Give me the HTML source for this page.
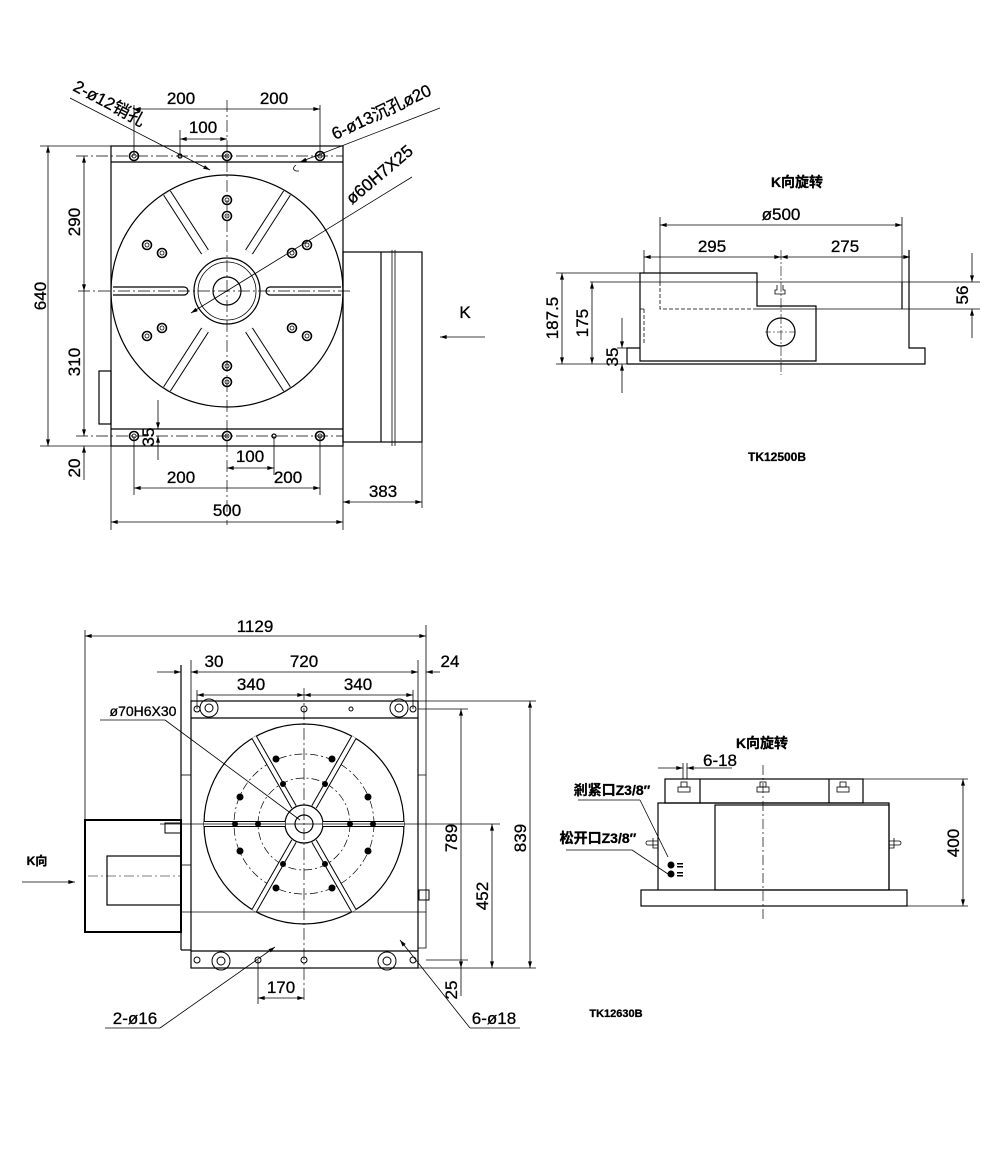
<!DOCTYPE html>
<html><head><meta charset="utf-8"><style>
html,body{margin:0;padding:0;background:#fff;}
svg{display:block;}
text{font-family:"Liberation Sans Narrow","Liberation Sans","Noto Sans CJK SC",sans-serif;font-size:17px;fill:#000;stroke:#000;stroke-width:0.3;}
.b{font-weight:bold;}
</style></head><body>
<svg width="1000" height="1161" viewBox="0 0 1000 1161" xmlns="http://www.w3.org/2000/svg">
<defs>
<marker id="a" viewBox="0 0 10 6" refX="10" refY="3" markerWidth="10" markerHeight="4" orient="auto-start-reverse" markerUnits="userSpaceOnUse"><path d="M0,0 L10,3 L0,6z" fill="#000"/></marker>
</defs>
<g fill="none" stroke="#000" stroke-width="1.2">
<!-- ===== TOP LEFT ===== -->
<rect x="111" y="146" width="232" height="300"/>
<line x1="111" y1="162" x2="343" y2="162"/>
<line x1="111" y1="429" x2="343" y2="429"/>
<circle cx="227" cy="291" r="116"/>
<circle cx="227" cy="291" r="33"/>
<circle cx="227" cy="291" r="29" stroke-width="0.8"/>
<circle cx="227" cy="291" r="14"/>
<rect x="343" y="252" width="79" height="190"/>
<line x1="381" y1="252" x2="381" y2="442"/>
<line x1="392" y1="250" x2="392" y2="446" stroke-width="0.8"/>
<line x1="395" y1="250" x2="395" y2="446" stroke-width="0.8"/>
<rect x="99" y="371" width="12" height="53"/>
<path d="M113,287 H184 A4,4 0 0 1 184,295 H113"/>
<path d="M341,287 H270 A4,4 0 0 0 270,295 H341"/>
<g>
<line x1="167" y1="193" x2="205" y2="252" stroke-width="9" stroke="#000"/>
<line x1="167" y1="193" x2="205" y2="252" stroke-width="7" stroke="#fff"/>
<line x1="287" y1="193" x2="249" y2="252" stroke-width="9" stroke="#000"/>
<line x1="287" y1="193" x2="249" y2="252" stroke-width="7" stroke="#fff"/>
<line x1="167" y1="389" x2="205" y2="330" stroke-width="9" stroke="#000"/>
<line x1="167" y1="389" x2="205" y2="330" stroke-width="7" stroke="#fff"/>
<line x1="287" y1="389" x2="249" y2="330" stroke-width="9" stroke="#000"/>
<line x1="287" y1="389" x2="249" y2="330" stroke-width="7" stroke="#fff"/>
</g>
<line x1="227" y1="100" x2="227" y2="525" stroke-width="0.7" stroke-dasharray="12,3,2,3"/>
<line x1="78" y1="291" x2="350" y2="291" stroke-width="0.7" stroke-dasharray="12,3,2,3"/>
<line x1="76" y1="156" x2="343" y2="156" stroke-width="0.7" stroke-dasharray="12,3,2,3"/>
<line x1="76" y1="436" x2="343" y2="436" stroke-width="0.7" stroke-dasharray="12,3,2,3"/>
<g stroke-width="1.6">
<circle cx="134" cy="156" r="4.5"/><circle cx="227" cy="156" r="4.5"/><circle cx="320" cy="156" r="4.5"/>
<circle cx="134" cy="436" r="4.5"/><circle cx="227" cy="436" r="4.5"/><circle cx="320" cy="436" r="4.5"/>
<circle cx="227" cy="200" r="4.5"/><circle cx="227" cy="216" r="4.5"/>
<circle cx="147" cy="245" r="4.5"/><circle cx="162" cy="253" r="4.5"/>
<circle cx="307" cy="245" r="4.5"/><circle cx="292" cy="253" r="4.5"/>
<circle cx="147" cy="336" r="4.5"/><circle cx="162" cy="328" r="4.5"/>
<circle cx="307" cy="336" r="4.5"/><circle cx="292" cy="328" r="4.5"/>
<circle cx="227" cy="366" r="4.5"/><circle cx="227" cy="382" r="4.5"/>
</g>
<g stroke-width="0.8">
<circle cx="134" cy="156" r="2"/><circle cx="227" cy="156" r="2"/><circle cx="320" cy="156" r="2"/>
<circle cx="134" cy="436" r="2"/><circle cx="227" cy="436" r="2"/><circle cx="320" cy="436" r="2"/>
<circle cx="227" cy="200" r="2"/><circle cx="227" cy="216" r="2"/>
<circle cx="147" cy="245" r="2"/><circle cx="162" cy="253" r="2"/>
<circle cx="307" cy="245" r="2"/><circle cx="292" cy="253" r="2"/>
<circle cx="147" cy="336" r="2"/><circle cx="162" cy="328" r="2"/>
<circle cx="307" cy="336" r="2"/><circle cx="292" cy="328" r="2"/>
<circle cx="227" cy="366" r="2"/><circle cx="227" cy="382" r="2"/>
</g>
<circle cx="180" cy="156" r="2"/><circle cx="274" cy="436" r="2"/>
<path d="M296,165 q-5,4 0,6 h3" stroke-width="0.8"/>
<g stroke-width="0.8">
<line x1="40" y1="146" x2="111" y2="146"/><line x1="40" y1="446" x2="111" y2="446"/>
<line x1="48" y1="146" x2="48" y2="446" marker-start="url(#a)" marker-end="url(#a)"/>
<line x1="84" y1="156" x2="84" y2="291" marker-start="url(#a)" marker-end="url(#a)"/>
<line x1="84" y1="291" x2="84" y2="436" marker-end="url(#a)"/>
<line x1="84" y1="446" x2="84" y2="480" marker-start="url(#a)"/>
<line x1="158" y1="400" x2="158" y2="429" marker-end="url(#a)"/>
<line x1="158" y1="436" x2="158" y2="460" marker-start="url(#a)"/>
<line x1="134" y1="109" x2="320" y2="109" marker-start="url(#a)" marker-end="url(#a)"/>
<line x1="134" y1="105" x2="134" y2="156"/><line x1="320" y1="105" x2="320" y2="156"/>
<line x1="180" y1="130" x2="180" y2="156"/>
<line x1="180" y1="139" x2="227" y2="139" marker-start="url(#a)" marker-end="url(#a)"/>
<line x1="134" y1="436" x2="134" y2="495"/><line x1="320" y1="436" x2="320" y2="495"/>
<line x1="274" y1="436" x2="274" y2="475"/>
<line x1="227" y1="468" x2="274" y2="468" marker-start="url(#a)" marker-end="url(#a)"/>
<line x1="134" y1="488" x2="320" y2="488" marker-start="url(#a)" marker-end="url(#a)"/>
<line x1="111" y1="446" x2="111" y2="530"/><line x1="343" y1="446" x2="343" y2="530"/>
<line x1="422" y1="442" x2="422" y2="508"/>
<line x1="111" y1="522" x2="343" y2="522" marker-start="url(#a)" marker-end="url(#a)"/>
<line x1="343" y1="502" x2="422" y2="502" marker-start="url(#a)" marker-end="url(#a)"/>
<line x1="485" y1="337" x2="440" y2="337" marker-end="url(#a)"/>
<line x1="70" y1="98" x2="210" y2="170" marker-end="url(#a)"/>
<line x1="440" y1="108" x2="300" y2="162" marker-end="url(#a)"/>
<line x1="191" y1="313" x2="412" y2="177" marker-start="url(#a)"/>
</g>
<!-- ===== TOP RIGHT ===== -->
<path d="M640,273 H757 V306 H816 V361 H640 Z"/>
<path d="M627,364 H925 V348 H909 V250"/>
<path d="M627,364 V348 H640"/>
<line x1="590" y1="282" x2="980" y2="282" stroke-width="0.8"/>
<line x1="757" y1="309" x2="980" y2="309" stroke-width="0.8"/>
<line x1="902" y1="282" x2="902" y2="309"/>
<path d="M660,282 V309 H757 M644,309 H640" stroke-dasharray="4,2" stroke-width="0.8"/>
<line x1="644" y1="309" x2="644" y2="345" stroke-dasharray="4,2" stroke-width="0.8"/>
<circle cx="781" cy="332" r="14"/>
<line x1="765" y1="332" x2="797" y2="332" stroke-width="0.6" stroke-dasharray="6,2,2,2"/>
<line x1="781" y1="250" x2="781" y2="375" stroke-width="0.6" stroke-dasharray="10,2,2,2"/>
<path d="M777,285 v5 h-2 v4 h10 v-4 h-2 v-5" stroke-width="0.8"/>
<g stroke-width="0.8">
<line x1="660" y1="217" x2="660" y2="282"/><line x1="902" y1="217" x2="902" y2="282"/>
<line x1="660" y1="225" x2="902" y2="225" marker-start="url(#a)" marker-end="url(#a)"/>
<line x1="644" y1="250" x2="644" y2="273"/>
<line x1="644" y1="257" x2="781" y2="257" marker-start="url(#a)" marker-end="url(#a)"/>
<line x1="781" y1="257" x2="910" y2="257" marker-start="url(#a)" marker-end="url(#a)"/>
<line x1="556" y1="273" x2="640" y2="273"/><line x1="556" y1="364" x2="627" y2="364"/>
<line x1="562" y1="273" x2="562" y2="364" marker-start="url(#a)" marker-end="url(#a)"/>
<line x1="592" y1="282" x2="592" y2="364" marker-start="url(#a)" marker-end="url(#a)"/>
<line x1="622" y1="318" x2="622" y2="348" marker-end="url(#a)"/>
<line x1="622" y1="364" x2="622" y2="393" marker-start="url(#a)"/>
<line x1="617" y1="348" x2="627" y2="348"/>
<line x1="972" y1="253" x2="972" y2="282" marker-end="url(#a)"/>
<line x1="972" y1="309" x2="972" y2="338" marker-start="url(#a)"/>
</g>
<!-- ===== BOTTOM LEFT ===== -->
<rect x="191" y="701" width="227" height="267"/>
<line x1="191" y1="718" x2="418" y2="718"/>
<line x1="191" y1="951" x2="418" y2="951"/>
<line x1="181" y1="665" x2="181" y2="950"/>
<line x1="181" y1="950" x2="191" y2="950"/>
<line x1="426" y1="625" x2="426" y2="775" stroke-width="0.8"/>
<path d="M418,775 H426 V948 H418" stroke-width="0.8"/>
<rect x="181" y="775" width="10" height="90" stroke-width="0.8"/>
<rect x="85" y="820" width="96" height="112" stroke-width="2"/>
<rect x="107" y="856" width="74" height="49"/>
<circle cx="304" cy="824" r="100"/>
<circle cx="304" cy="824" r="70" stroke-width="0.7" stroke-dasharray="8,3,2,3"/>
<circle cx="304" cy="824" r="46" stroke-width="0.7" stroke-dasharray="8,3,2,3"/>
<circle cx="304" cy="824" r="19"/>
<circle cx="304" cy="824" r="9"/>
<g>
<line x1="204" y1="824" x2="285" y2="824" stroke-width="6"/>
<line x1="204" y1="824" x2="285" y2="824" stroke-width="4" stroke="#fff"/>
<line x1="323" y1="824" x2="404" y2="824" stroke-width="6"/>
<line x1="323" y1="824" x2="404" y2="824" stroke-width="4" stroke="#fff"/>
<line x1="254" y1="737" x2="294" y2="807" stroke-width="6"/>
<line x1="254" y1="737" x2="294" y2="807" stroke-width="4" stroke="#fff"/>
<line x1="354" y1="737" x2="314" y2="807" stroke-width="6"/>
<line x1="354" y1="737" x2="314" y2="807" stroke-width="4" stroke="#fff"/>
<line x1="254" y1="911" x2="294" y2="841" stroke-width="6"/>
<line x1="254" y1="911" x2="294" y2="841" stroke-width="4" stroke="#fff"/>
<line x1="354" y1="911" x2="314" y2="841" stroke-width="6"/>
<line x1="354" y1="911" x2="314" y2="841" stroke-width="4" stroke="#fff"/>
</g>
<line x1="304" y1="688" x2="304" y2="1000" stroke-width="0.7" stroke-dasharray="12,3,2,3"/>
<line x1="160" y1="824" x2="500" y2="824" stroke-width="0.7"/>
<line x1="88" y1="876" x2="181" y2="876" stroke-width="0.6" stroke-dasharray="10,3,2,3"/>
<line x1="180" y1="912" x2="426" y2="912" stroke-width="0.7"/>
<g fill="#000" stroke="none">
<circle cx="276" cy="759" r="3.5"/><circle cx="332" cy="759" r="3.5"/>
<circle cx="283" cy="784" r="3"/><circle cx="325" cy="784" r="3"/>
<circle cx="240" cy="797" r="3.5"/><circle cx="368" cy="797" r="3.5"/>
<circle cx="235" cy="824" r="3"/><circle cx="258" cy="824" r="3"/><circle cx="350" cy="824" r="3"/><circle cx="373" cy="824" r="3"/>
<circle cx="240" cy="851" r="3.5"/><circle cx="368" cy="851" r="3.5"/>
<circle cx="283" cy="864" r="3"/><circle cx="325" cy="864" r="3"/>
<circle cx="276" cy="888" r="3.5"/><circle cx="332" cy="888" r="3.5"/>
</g>
<g stroke-width="1">
<circle cx="209" cy="708" r="9"/><circle cx="209" cy="708" r="4"/>
<circle cx="399" cy="708" r="9"/><circle cx="399" cy="708" r="4"/>
<circle cx="221" cy="961" r="9"/><circle cx="221" cy="961" r="4"/>
<circle cx="387" cy="961" r="9"/><circle cx="387" cy="961" r="4"/>
<circle cx="197" cy="709" r="3"/><circle cx="413" cy="709" r="3"/><circle cx="304" cy="709" r="3"/><circle cx="351" cy="709" r="2"/>
<circle cx="197" cy="960" r="3"/><circle cx="413" cy="960" r="3"/><circle cx="304" cy="960" r="3"/><circle cx="258" cy="960" r="3"/>
</g>
<rect x="165" y="823" width="16" height="10" stroke-width="1"/>
<rect x="419" y="890" width="10" height="10" stroke-width="1"/>
<g stroke-width="0.8">
<line x1="85" y1="630" x2="85" y2="820"/>
<line x1="85" y1="636" x2="426" y2="636" marker-start="url(#a)" marker-end="url(#a)"/>
<line x1="157" y1="672" x2="181" y2="672" marker-end="url(#a)"/>
<line x1="191" y1="672" x2="418" y2="672" marker-start="url(#a)" marker-end="url(#a)"/>
<line x1="191" y1="660" x2="191" y2="701"/><line x1="418" y1="660" x2="418" y2="701"/>
<line x1="440" y1="672" x2="426" y2="672" marker-end="url(#a)"/>
<line x1="197" y1="690" x2="197" y2="709"/><line x1="413" y1="690" x2="413" y2="709"/>
<line x1="197" y1="695" x2="304" y2="695" marker-start="url(#a)" marker-end="url(#a)"/>
<line x1="304" y1="695" x2="413" y2="695" marker-start="url(#a)" marker-end="url(#a)"/>
<line x1="418" y1="701" x2="536" y2="701"/><line x1="418" y1="709" x2="468" y2="709"/>
<line x1="418" y1="968" x2="536" y2="968"/>
<line x1="426" y1="960" x2="468" y2="960"/>
<line x1="461" y1="709" x2="461" y2="968" marker-start="url(#a)" marker-end="url(#a)"/>
<line x1="461" y1="968" x2="461" y2="996"/>
<line x1="530" y1="701" x2="530" y2="968" marker-start="url(#a)" marker-end="url(#a)"/>
<line x1="492" y1="824" x2="492" y2="968" marker-start="url(#a)" marker-end="url(#a)"/>
<line x1="258" y1="960" x2="258" y2="1004"/>
<line x1="258" y1="998" x2="304" y2="998" marker-start="url(#a)" marker-end="url(#a)"/>
<line x1="100" y1="720" x2="165" y2="720"/>
<line x1="165" y1="720" x2="300" y2="820"/>
<line x1="105" y1="1028" x2="160" y2="1028"/>
<line x1="160" y1="1028" x2="275" y2="947" marker-end="url(#a)"/>
<line x1="470" y1="1028" x2="520" y2="1028"/>
<line x1="470" y1="1028" x2="400" y2="940" marker-end="url(#a)"/>
<line x1="22" y1="882" x2="75" y2="882" marker-end="url(#a)"/>
</g>
<!-- ===== BOTTOM RIGHT ===== -->
<rect x="665" y="779" width="198" height="24"/>
<line x1="700" y1="779" x2="700" y2="803"/><line x1="829" y1="779" x2="829" y2="803"/>
<path d="M658,890 V803 H889 V890"/>
<rect x="715" y="805" width="174" height="85"/>
<rect x="641" y="890" width="266" height="16"/>
<line x1="763" y1="765" x2="763" y2="920" stroke-width="0.7" stroke-dasharray="10,3,2,3"/>
<g stroke-width="0.8">
<rect x="681" y="782" width="6" height="5"/><rect x="678" y="787" width="12" height="5"/>
<rect x="760" y="782" width="6" height="5"/><rect x="757" y="787" width="12" height="5"/>
<rect x="840" y="782" width="6" height="5"/><rect x="837" y="787" width="12" height="5"/>
<path d="M658,841 h-10 a2,2 0 0 0 0,4 h10 M653,838 v10 h5"/>
<path d="M889,841 h10 a2,2 0 0 1 0,4 h-10 M894,838 v10 h-5"/>
<line x1="863" y1="779" x2="968" y2="779"/><line x1="907" y1="906" x2="968" y2="906"/>
<line x1="963" y1="779" x2="963" y2="906" marker-start="url(#a)" marker-end="url(#a)"/>
<line x1="683" y1="763" x2="683" y2="779"/><line x1="687" y1="763" x2="687" y2="779"/>
<line x1="658" y1="768" x2="683" y2="768" marker-end="url(#a)"/>
<line x1="732" y1="768" x2="687" y2="768" marker-end="url(#a)"/>
<line x1="578" y1="800" x2="640" y2="800"/><line x1="640" y1="800" x2="668" y2="857"/>
<line x1="566" y1="850" x2="632" y2="850"/><line x1="632" y1="850" x2="668" y2="874"/>
</g>
<g fill="#000" stroke="none">
<circle cx="671" cy="865" r="3.5"/><circle cx="671" cy="874" r="3.5"/>
<rect x="677" y="863" width="6" height="1.5"/><rect x="677" y="866" width="6" height="1.5"/>
<rect x="677" y="872" width="6" height="1.5"/><rect x="677" y="875" width="6" height="1.5"/>
</g>
</g>
<!-- ===== TEXT ===== -->
<g>
<text x="72" y="90" transform="rotate(28 72 90)">2-ø12销孔</text>
<text x="181" y="104" text-anchor="middle">200</text>
<text x="274" y="104" text-anchor="middle">200</text>
<text x="203" y="133" text-anchor="middle">100</text>
<text x="335" y="140" transform="rotate(-25 335 140)">6-ø13沉孔ø20</text>
<text x="352" y="205" transform="rotate(-40 352 205)">ø60H7X25</text>
<text x="46" y="296" transform="rotate(-90 46 296)" text-anchor="middle">640</text>
<text x="80" y="222" transform="rotate(-90 80 222)" text-anchor="middle">290</text>
<text x="80" y="362" transform="rotate(-90 80 362)" text-anchor="middle">310</text>
<text x="80" y="468" transform="rotate(-90 80 468)" text-anchor="middle">20</text>
<text x="154" y="437" transform="rotate(-90 154 437)" text-anchor="middle">35</text>
<text x="250" y="462" text-anchor="middle">100</text>
<text x="181" y="483" text-anchor="middle">200</text>
<text x="288" y="483" text-anchor="middle">200</text>
<text x="383" y="497" text-anchor="middle">383</text>
<text x="227" y="516" text-anchor="middle">500</text>
<text x="465" y="318" text-anchor="middle">K</text>
<text x="797" y="187" text-anchor="middle" class="b" style="font-size:14px">K向旋转</text>
<text x="781" y="220" text-anchor="middle">ø500</text>
<text x="712" y="252" text-anchor="middle">295</text>
<text x="845" y="252" text-anchor="middle">275</text>
<text x="558" y="318" transform="rotate(-90 558 318)" text-anchor="middle">187.5</text>
<text x="588" y="323" transform="rotate(-90 588 323)" text-anchor="middle">175</text>
<text x="618" y="357" transform="rotate(-90 618 357)" text-anchor="middle">35</text>
<text x="968" y="295" transform="rotate(-90 968 295)" text-anchor="middle">56</text>
<text x="777" y="461" text-anchor="middle" class="b" style="font-size:12px">TK12500B</text>
<text x="255" y="632" text-anchor="middle">1129</text>
<text x="214" y="667" text-anchor="middle">30</text>
<text x="304" y="667" text-anchor="middle">720</text>
<text x="450" y="667" text-anchor="middle">24</text>
<text x="251" y="690" text-anchor="middle">340</text>
<text x="358" y="690" text-anchor="middle">340</text>
<text x="143" y="716" text-anchor="middle" style="font-size:14px">ø70H6X30</text>
<text x="37" y="865" text-anchor="middle" class="b" style="font-size:12px">K向</text>
<text x="457" y="838" transform="rotate(-90 457 838)" text-anchor="middle">789</text>
<text x="526" y="838" transform="rotate(-90 526 838)" text-anchor="middle">839</text>
<text x="488" y="896" transform="rotate(-90 488 896)" text-anchor="middle">452</text>
<text x="457" y="990" transform="rotate(-90 457 990)" text-anchor="middle">25</text>
<text x="281" y="993" text-anchor="middle">170</text>
<text x="135" y="1024" text-anchor="middle">2-ø16</text>
<text x="494" y="1024" text-anchor="middle">6-ø18</text>
<text x="959" y="843" transform="rotate(-90 959 843)" text-anchor="middle">400</text>
<text x="762" y="748" text-anchor="middle" class="b" style="font-size:14px">K向旋转</text>
<text x="720" y="766" text-anchor="middle">6-18</text>
<text x="612" y="795" text-anchor="middle" class="b" style="font-size:14px">剎紧口Z3/8″</text>
<text x="598" y="843" text-anchor="middle" class="b" style="font-size:14px">松开口Z3/8″</text>
<text x="616" y="1017" text-anchor="middle" class="b" style="font-size:11px">TK12630B</text>
</g>
</svg>
</body></html>
